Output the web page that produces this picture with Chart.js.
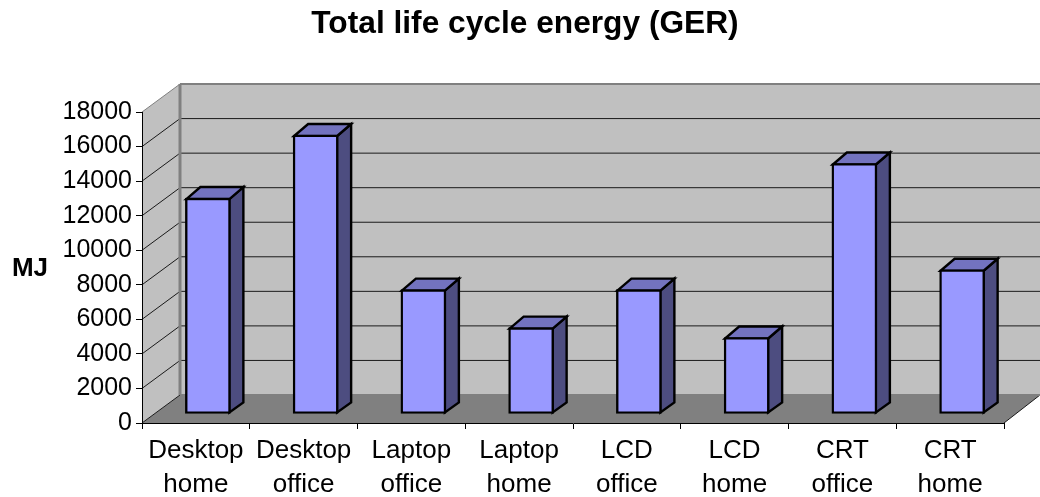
<!DOCTYPE html>
<html>
<head>
<meta charset="utf-8">
<title>Total life cycle energy (GER)</title>
<script src="https://cdn.jsdelivr.net/npm/chart.js@4"></script>
<style>
  html, body { margin: 0; padding: 0; background: #fff; }
  canvas { display: block; }
</style>
</head>
<body>
<canvas id="gerChart" width="1040" height="497"></canvas>
<script>
const categories = [
    ['Desktop', 'home'], ['Desktop', 'office'],
    ['Laptop', 'office'], ['Laptop', 'home'],
    ['LCD', 'office'], ['LCD', 'home'],
    ['CRT', 'office'], ['CRT', 'home']
];
const energyMJ = [12500, 16150, 7200, 5000, 7200, 4430, 14500, 8350];
const chartTitle = 'Total life cycle energy (GER)';
const axisTitle = 'MJ';

// Fake 3D: how far the back wall sits from the front axes
const WALL_DX = 38, WALL_DY = 28;
// Bars stand partway into the floor
const BAR_SHIFT_X = 12, BAR_SHIFT_Y = 9;
// Depth of a bar, a bit more at the top because of the perspective
const BAR_DX = 14, BAR_DY_TOP = 12, BAR_DY_BOTTOM = 10;
const BAR_LINE = 2.4;

const scene3d = {
    id: 'scene3d',
    // walls and floor go under the axes
    beforeDraw(chart) {
        const { ctx, chartArea: a, scales: { y } } = chart;
        const right = chart.width;
        const y0 = y.getPixelForValue(0);
        const yMax = y.getPixelForValue(18000);
        ctx.save();
        // left wall
        ctx.fillStyle = '#C0C0C0';
        ctx.beginPath();
        ctx.moveTo(a.left, yMax);
        ctx.lineTo(a.left + WALL_DX, yMax - WALL_DY);
        ctx.lineTo(a.left + WALL_DX, y0 - WALL_DY);
        ctx.lineTo(a.left, y0);
        ctx.closePath();
        ctx.fill();
        // back wall
        ctx.fillRect(a.left + WALL_DX, yMax - WALL_DY, right - a.left - WALL_DX, y0 - yMax);
        // floor
        ctx.fillStyle = '#808080';
        ctx.beginPath();
        ctx.moveTo(a.left, y0);
        ctx.lineTo(a.left + WALL_DX, y0 - WALL_DY);
        ctx.lineTo(right, y0 - WALL_DY);
        ctx.lineTo(a.right, y0);
        ctx.closePath();
        ctx.fill();
        // gridlines, wrapping from the side wall on to the back wall
        ctx.lineWidth = 1;
        y.ticks.forEach(function(t) {
            const py = y.getPixelForValue(t.value);
            const top = t.value === 18000;
            ctx.beginPath();
            ctx.moveTo(a.left, py);
            ctx.lineTo(a.left + WALL_DX, py - WALL_DY);
            if (!top && t.value !== 0) ctx.lineTo(right, py - WALL_DY);
            ctx.strokeStyle = top ? '#808080' : '#1a1a1a';
            ctx.stroke();
        });
        // front edge of the floor on the right
        ctx.strokeStyle = '#1a1a1a';
        ctx.beginPath();
        ctx.moveTo(a.right, y0);
        ctx.lineTo(right, y0 - WALL_DY);
        ctx.stroke();
        // grey frame of the back wall
        ctx.strokeStyle = '#808080';
        ctx.lineWidth = 2;
        ctx.beginPath();
        ctx.moveTo(right, yMax - WALL_DY);
        ctx.lineTo(a.left + WALL_DX, yMax - WALL_DY);
        ctx.moveTo(a.left + WALL_DX, y0 - WALL_DY);
        ctx.lineTo(right, y0 - WALL_DY);
        ctx.stroke();
        ctx.lineWidth = 3;
        ctx.beginPath();
        ctx.moveTo(a.left + WALL_DX, yMax - WALL_DY);
        ctx.lineTo(a.left + WALL_DX, y0 - WALL_DY);
        ctx.stroke();
        ctx.restore();
    },
    // side and top faces, the library then draws the front faces on top
    beforeDatasetsDraw(chart) {
        const { ctx } = chart;
        ctx.save();
        ctx.translate(BAR_SHIFT_X, -BAR_SHIFT_Y);
        ctx.strokeStyle = '#000';
        ctx.lineWidth = BAR_LINE;
        ctx.lineJoin = 'miter';
        chart.getDatasetMeta(0).data.forEach(function(bar) {
            const l = bar.x - bar.width / 2 + 1;
            const r = bar.x + bar.width / 2 - 1;
            const t = bar.y + 1;
            const b = bar.base - 1;
            ctx.fillStyle = '#4D4D80';
            ctx.beginPath();
            ctx.moveTo(r, t);
            ctx.lineTo(r + BAR_DX, t - BAR_DY_TOP);
            ctx.lineTo(r + BAR_DX, b - BAR_DY_BOTTOM);
            ctx.lineTo(r, b);
            ctx.closePath();
            ctx.fill();
            ctx.stroke();
            ctx.fillStyle = '#7373BF';
            ctx.beginPath();
            ctx.moveTo(l, t);
            ctx.lineTo(l + BAR_DX, t - BAR_DY_TOP);
            ctx.lineTo(r + BAR_DX, t - BAR_DY_TOP);
            ctx.lineTo(r, t);
            ctx.closePath();
            ctx.fill();
            ctx.stroke();
        });
    },
    afterDatasetsDraw(chart) {
        const { ctx, scales: { y } } = chart;
        ctx.restore();
        // unrotated axis title, the library only does rotated ones
        ctx.save();
        ctx.fillStyle = '#000';
        ctx.font = 'bold 26px "Liberation Sans"';
        ctx.textAlign = 'center';
        ctx.textBaseline = 'middle';
        ctx.fillText(axisTitle, 30, y.getPixelForValue(8900));
        ctx.restore();
    }
};

const ctx = document.getElementById('gerChart').getContext('2d');
new Chart(ctx, {
    type: 'bar',
    plugins: [scene3d],
    data: {
        labels: categories,
        datasets: [{
            label: 'Energy',
            data: energyMJ,
            backgroundColor: '#9999FF',
            borderColor: '#000',
            borderWidth: BAR_LINE,
            borderSkipped: false,
            barThickness: 45,
            clip: false
        }]
    },
    options: {
        responsive: false,
        animation: false,
        layout: { padding: { left: 46, right: 36, top: 0, bottom: 0 } },
        plugins: {
            legend: { display: false },
            tooltip: { enabled: false },
            title: {
                display: true,
                text: chartTitle,
                color: '#000',
                font: { family: '"Liberation Sans"', size: 31.7, weight: 'bold' },
                padding: { top: 5, bottom: 69 }
            }
        },
        scales: {
            x: {
                afterFit(scale) { scale.height = 74; },
                border: { color: '#000', width: 1 },
                grid: { drawOnChartArea: false, drawTicks: true, tickLength: 6, color: '#000' },
                ticks: {
                    color: '#000',
                    font: { family: '"Liberation Sans"', size: 26, lineHeight: 1.31 },
                    maxRotation: 0,
                    autoSkip: false,
                    padding: 5
                }
            },
            y: {
                min: 0,
                max: 18000,
                afterFit(scale) { scale.width = 96; },
                border: { color: '#000', width: 1 },
                grid: { drawOnChartArea: false, drawTicks: true, tickLength: 6, color: '#000' },
                ticks: {
                    stepSize: 2000,
                    color: '#000',
                    font: { family: '"Liberation Sans"', size: 25 },
                    padding: 4,
                    callback: function(value) { return String(value); }
                }
            }
        }
    }
});
</script>
</body>
</html>
